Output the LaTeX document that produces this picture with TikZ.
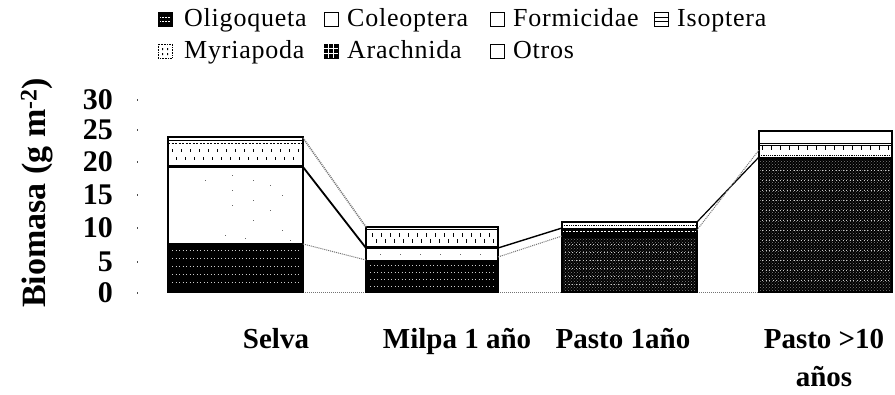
\documentclass[tikz,border=0pt]{standalone}
\usepackage{fontspec}
\setmainfont{Liberation Serif}
\usetikzlibrary{patterns}
\begin{document}
\begin{tikzpicture}[x=1pt,y=-1pt,
  barline/.style={draw=black, line width=1.3},
  legbox/.style={draw=black, line width=1},
  legtext/.style={font=\fontsize{26}{26}\selectfont\addfontfeatures{LetterSpace=3}, anchor=base west, inner sep=0},
  cat/.style={font=\bfseries\fontsize{29}{38}\selectfont, inner sep=0, align=center, anchor=base},
  num/.style={font=\bfseries\fontsize{30}{30}\selectfont, anchor=east, inner sep=0},
  link/.style={line width=1.8, black},
  dlink/.style={line width=1, densely dotted, black!55},
  tick/.style={fill=black!70},
  blackfill/.style={fill=black},
  texture/.style={white!80!black, line width=0.6, dash pattern=on 1.2pt off 2.3pt},
]
\useasboundingbox (0,0) rectangle (895,394);
\fill[white] (0,0) rectangle (895,394);

% ---------- legend ----------
% row 1
\draw[legbox, fill=black] (158,12) rectangle (172,26);
\draw[white, line width=0.5, densely dotted] (160,17) -- (170,17) (160,21) -- (170,21);
\node[legtext] (lOli) at (184,26) {Oligoqueta};
\draw[legbox] (324,12) rectangle (338,26);
\node[legtext] (lCol) at (347,26) {Coleoptera};
\draw[legbox] (490,12) rectangle (504,26);
\node[legtext] (lFor) at (513,26) {Formicidae};
\draw[legbox] (654,12) rectangle (668,26);
\draw[line width=0.8] (654,17) -- (668,17) (654,21) -- (668,21);
\node[legtext] (lIso) at (677,26) {Isoptera};
% row 2
\draw[legbox, line width=0.6, densely dotted] (158,44) rectangle (172,58);
\fill[black] (162,48) rectangle (163,50) (167,48) rectangle (168,50) (162,53) rectangle (163,55) (167,53) rectangle (168,55);
\node[legtext] (lMyr) at (184,58) {Myriapoda};
\draw[legbox, fill=black] (324,44) rectangle (338,58);
\draw[white, line width=0.8] (324,48.5) -- (338,48.5) (324,53.5) -- (338,53.5)
  (328.5,44) -- (328.5,58) (333.5,44) -- (333.5,58);
\node[legtext] (lAra) at (347,58) {Arachnida};
\draw[legbox] (490,44) rectangle (504,58);
\node[legtext] (lOtr) at (513,58) {Otros};

% ---------- y axis ----------
\node[font=\bfseries\fontsize{34}{34}\selectfont, rotate=90, inner sep=0] (ytitle) at (37,193)
  {Biomasa (g m\textsuperscript{-2})};
\foreach \v/\yy in {30/100,25/130,20/162,15/195,10/228,5/262,0/293}{
  \node[num] (n\v) at (113,\yy) {\v};
  \fill[tick] (136.5,\yy-0.7) rectangle (138,\yy+0.7);
}

% ---------- baseline dotted ----------
\coordinate (b0) at (303,292);
\coordinate (b1) at (366,292);
\coordinate (b2) at (498,292);
\coordinate (b3) at (562,292);
\coordinate (b4) at (697,292);
\coordinate (b5) at (759,292);
\draw[dlink] (b0) -- (b1) (b2) -- (b3) (b4) -- (b5);

% ---------- Selva ----------
\fill[blackfill] (168,243) rectangle (303,292);
\foreach \yy in {250,258,266,274,282}{\draw[texture] (172,\yy) -- (300,\yy);}
\fill[white] (168,168) rectangle (303,243);
\foreach \xx/\yy in {205/180,232/175,232/190,232/205,253/180,253/200,253/220,270/185,270/210,282/195,282/230,290/240,225/235,245/238}
  {\fill[black!60] (\xx,\yy) rectangle (\xx+1,\yy+1);}
\draw[black, line width=1, densely dotted] (168,243) -- (303,243);
\draw[black, line width=3.2] (168,166.5) -- (303,166.5);
\fill[white] (168,145) rectangle (303,165);
\foreach \xx in {172,181,...,300}{
  \fill[black] (\xx,149) rectangle (\xx+1.3,152);
  \fill[black] (\xx+4,157) rectangle (\xx+5.3,160);
}
\fill[white] (168,138) rectangle (303,145);
\draw[black, line width=1] (168,140.5) -- (303,140.5);
\draw[black, line width=1.5, dash pattern=on 2pt off 1.5pt] (168,143.5) -- (303,143.5);
\draw[barline] (168,137) rectangle (303,292);

% ---------- Milpa 1 año ----------
\fill[blackfill] (366,260) rectangle (498,292);
\foreach \yy in {265,272,279,286}{\draw[texture] (370,\yy) -- (495,\yy);}
\fill[white] (366,250) rectangle (498,260);
\foreach \xx in {380,400,...,480}{\fill[black!60] (\xx,254) rectangle (\xx+1,255);}
\draw[black, line width=3] (366,247.5) -- (498,247.5);
\fill[white] (366,229) rectangle (498,246);
\foreach \xx in {372,381,...,495}{
  \fill[black] (\xx,233) rectangle (\xx+1.3,237);
  \fill[black] (\xx+4,239) rectangle (\xx+5.3,243);
}
\draw[black, line width=0.8] (366,229) -- (498,229);
\draw[barline] (366,227) rectangle (498,292);

% ---------- Pasto 1 año ----------
\fill[black] (562,235) rectangle (697,292);
\fill[pattern=crosshatch dots, pattern color=black!50] (562,238) rectangle (697,290);
\foreach \yy in {244,252,260,268,276,284}{\draw[texture, line width=0.8] (565,\yy) -- (694,\yy);}
\fill[black] (562,228) rectangle (697,235);
\draw[white, line width=1, dash pattern=on 2pt off 1.5pt] (562,231.5) -- (697,231.5);
\fill[white] (562,223) rectangle (697,228);
\draw[black, line width=0.8, densely dotted] (562,225.5) -- (697,225.5);
\draw[barline] (562,222) rectangle (697,292);

% ---------- Pasto >10 años ----------
\fill[black] (759,157) rectangle (892,292);
\fill[pattern=crosshatch dots, pattern color=black!50] (759,160) rectangle (892,290);
\foreach \yy in {170,180,190,200,210,220,230,240,250,260,270,280}{\draw[texture, line width=0.8] (762,\yy) -- (889,\yy);}
\fill[white] (759,143) rectangle (892,157);
\draw[black, line width=1] (759,145) -- (892,145);
\foreach \xx in {762,771,...,890}{\fill[black] (\xx,145) rectangle (\xx+1.3,150);}
\draw[black, line width=1.2, densely dotted] (759,155.5) -- (892,155.5);
\draw[black, line width=1] (759,143) -- (892,143);
\draw[barline] (759,131) rectangle (892,292);

% ---------- connectors ----------
\coordinate (sTop) at (303,138);
\coordinate (sLine) at (303,167);
\coordinate (sBot) at (303,244);
\coordinate (mTop) at (366,227);
\coordinate (mLine) at (366,248);
\coordinate (mBot) at (366,260);
\coordinate (mLineR) at (498,248);
\coordinate (mBotR) at (498,257);
\coordinate (p1Top) at (562,228);
\coordinate (p1Bot) at (562,236);
\coordinate (p1TopR) at (697,222);
\coordinate (p1R2) at (697,230);
\coordinate (p2L) at (759,157);
\coordinate (p2L2) at (759,150);
\draw[dlink, line width=1.6] (sTop) -- (mTop);
\draw[link] (sLine) -- (mLine);
\draw[dlink] (sBot) -- (mBot);
\draw[link, line width=1.4] (mLineR) -- (p1Top);
\draw[dlink] (mBotR) -- (p1Bot);
\draw[link, line width=1.2] (p1TopR) -- (p2L);
\draw[dlink] (p1R2) -- (p2L2);

% ---------- category labels ----------
\node[cat] (cSel) at (276,348) {Selva};
\node[cat] (cMil) at (457,348) {Milpa 1 año};
\node[cat] (cPa1) at (623,348) {Pasto 1año};
\node[cat] (cPa2) at (824,386) {Pasto >10\\años};
\end{tikzpicture}
\end{document}
